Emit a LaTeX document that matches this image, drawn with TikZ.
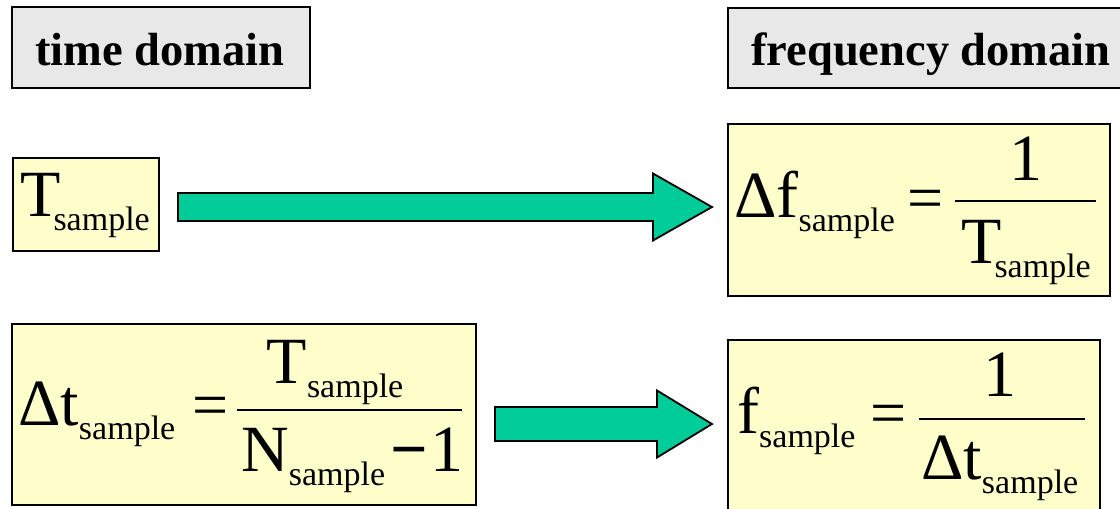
\documentclass[tikz,border=0pt]{standalone}
\usepackage{fontspec}
\setmainfont{Liberation Serif}
\usetikzlibrary{calc}
\definecolor{hgray}{RGB}{232,232,232}
\definecolor{fyellow}{RGB}{255,255,204}
\definecolor{agreen}{RGB}{0,204,153}
\newcommand{\mainsz}{\fontsize{66}{66}\selectfont}
\newcommand{\sbx}[1]{\raisebox{-14pt}{\fontsize{34}{34}\selectfont #1}}
\begin{document}
\begin{tikzpicture}[x=1pt,y=-1pt,
  hbox/.style={draw=black, line width=1.8pt, fill=hgray, inner sep=0, anchor=north west},
  ybox/.style={draw=black, line width=1.8pt, fill=fyellow, inner sep=0, anchor=north west},
  htext/.style={anchor=base, inner sep=0, font=\bfseries\fontsize{46.5}{46.5}\selectfont},
  ftext/.style={anchor=base west, inner sep=0, font=\mainsz},
  fnum/.style={anchor=base, inner sep=0, font=\mainsz},
  eqsign/.style={anchor=center, inner sep=0, font=\fontsize{64}{64}\selectfont},
  fbar/.style={line width=2.4pt},
  garrow/.style={draw=black, line width=1.8pt, fill=agreen, line join=miter}
]
\useasboundingbox (0,0) rectangle (1120,509);
\clip (0,0) rectangle (1120,509);
% heading boxes
\node[hbox, minimum width=298pt, minimum height=81pt] (time) at (11,6) {};
\node[htext] (timetxt) at (160,65) {time domain};
\node[hbox, minimum width=420pt, minimum height=80pt] (freq) at (727,7) {};
\node[htext] (freqtxt) at (931,65) {frequency domain};
% T sample box
\node[ybox, minimum width=146pt, minimum height=93pt] (tbox) at (12,157) {};
\node[ftext] (tsym) at (20,216) {T\kern-7pt\sbx{sample}};
% Delta f box
\node[ybox, minimum width=382pt, minimum height=172pt] (dfbox) at (727,123) {};
\node[ftext] (dfsym) at (734,217) {Δf\sbx{sample}};
\node[eqsign] (dfeq) at (926,205) {=};
\draw[fbar] (955,201) -- (1096,201);
\node[fnum] (dfone) at (1026,180) {1};
\node[fnum] (dfden) at (1026,263) {T\kern-7pt\sbx{sample}};
% Delta t box
\node[ybox, minimum width=464pt, minimum height=181pt] (dtbox) at (11,323) {};
\node[ftext] (dtsym) at (18,425) {Δt\sbx{sample}};
\node[eqsign] (dteq) at (211,412) {=};
\draw[fbar] (237,410) -- (462,410);
\node[fnum] (dtnum) at (335,383) {T\sbx{sample}};
\node[ftext] (dtden) at (241,471) {N\sbx{sample}\kern5pt\textbf{−}\kern3pt1};
% f box
\node[ybox, minimum width=372pt, minimum height=200pt] (fbox) at (727,339) {};
\node[ftext] (fsym) at (737,433) {f\sbx{sample}};
\node[eqsign] (feq) at (889,420) {=};
\draw[fbar] (919,419) -- (1085,419);
\node[fnum] (fone) at (1000,396) {1};
\node[ftext] (fden) at (921,479) {Δt\sbx{sample}};
% arrows
\coordinate (a1s) at (178,207);
\coordinate (a1e) at (712,207);
\draw[garrow] (a1s) ++(0,-14) -- ++(475,0) -- ++(0,-19.5) -- (a1e) -- ++(-59,33.5) -- ++(0,-19.5) -- ++(-475,0) -- cycle;
\coordinate (a2s) at (495,424);
\coordinate (a2e) at (712,424);
\draw[garrow] (a2s) ++(0,-17) -- ++(162,0) -- ++(0,-16.5) -- (a2e) -- ++(-55,33.5) -- ++(0,-16.5) -- ++(-162,0) -- cycle;
\end{tikzpicture}
\end{document}
